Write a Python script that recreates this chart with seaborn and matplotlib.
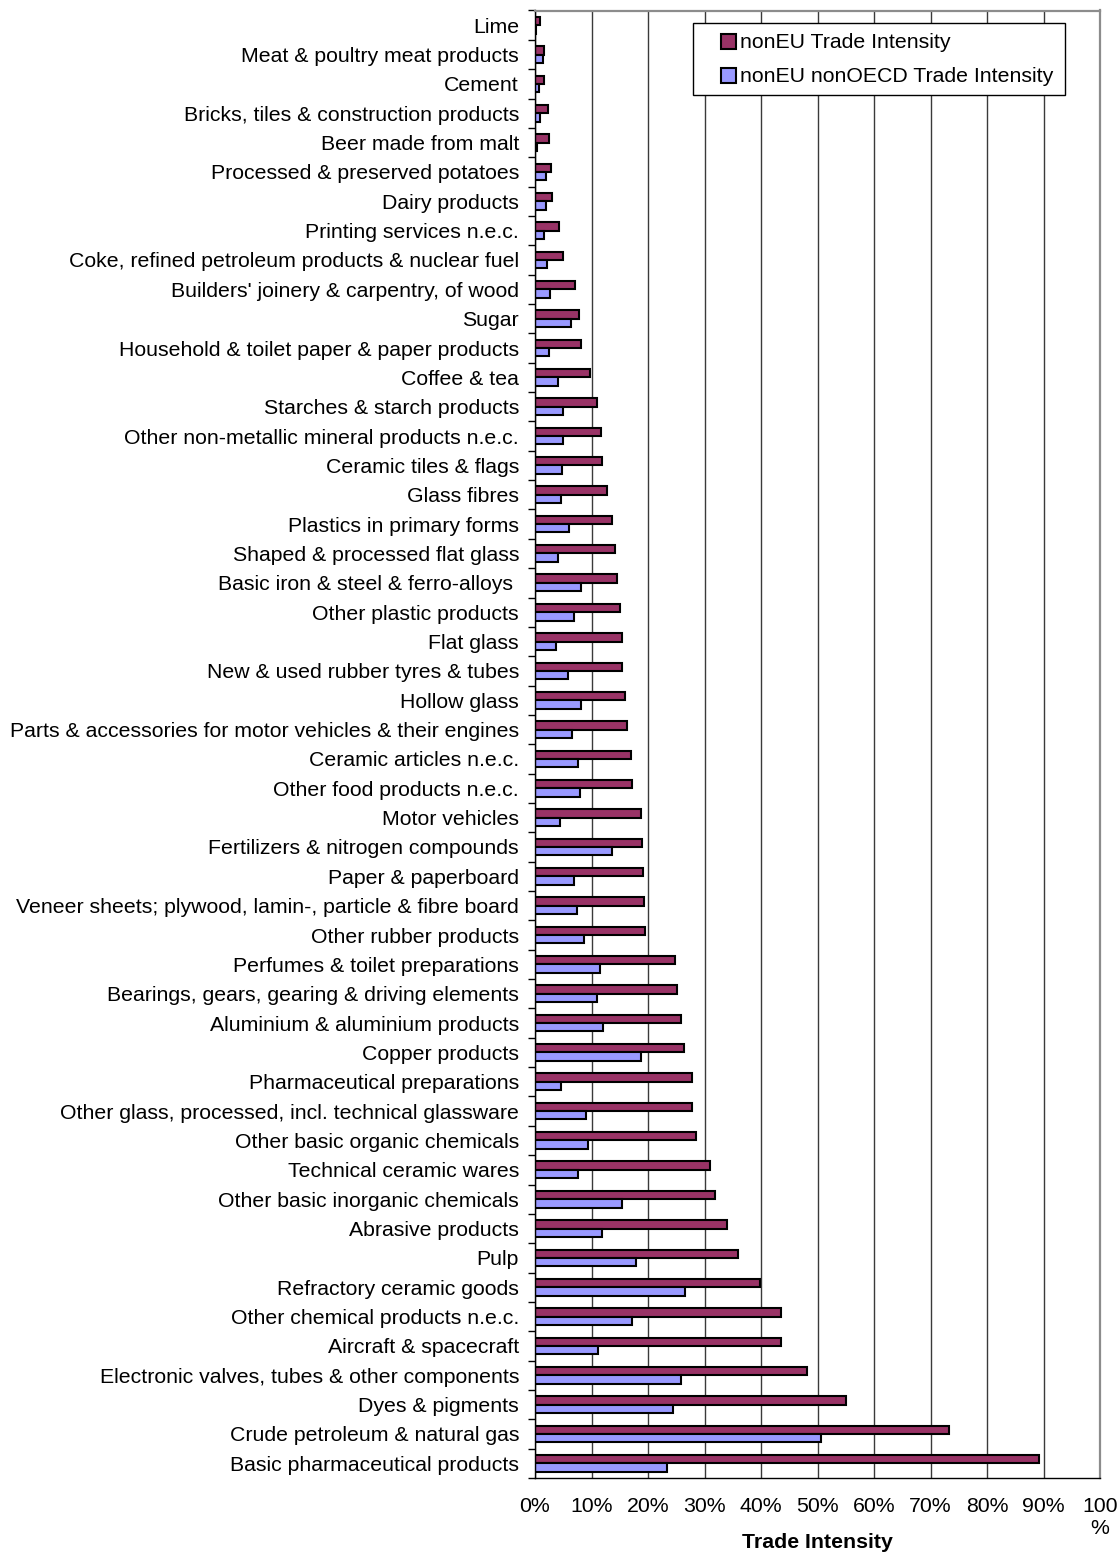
import numpy as np
import pandas as pd
import matplotlib
matplotlib.use("Agg")
import matplotlib.pyplot as plt
import matplotlib.patches as mpatches
from matplotlib.legend_handler import HandlerPatch
import seaborn as sns

# Product groups, top to bottom
categories = [
    "Lime",
    "Meat & poultry meat products",
    "Cement",
    "Bricks, tiles & construction products",
    "Beer made from malt",
    "Processed & preserved potatoes",
    "Dairy products",
    "Printing services n.e.c.",
    "Coke, refined petroleum products & nuclear fuel",
    "Builders' joinery & carpentry, of wood",
    "Sugar",
    "Household & toilet paper & paper products",
    "Coffee & tea",
    "Starches & starch products",
    "Other non-metallic mineral products n.e.c.",
    "Ceramic tiles & flags",
    "Glass fibres",
    "Plastics in primary forms",
    "Shaped & processed flat glass",
    "Basic iron & steel & ferro-alloys ",
    "Other plastic products",
    "Flat glass",
    "New & used rubber tyres & tubes",
    "Hollow glass",
    "Parts & accessories for motor vehicles & their engines",
    "Ceramic articles n.e.c.",
    "Other food products n.e.c.",
    "Motor vehicles",
    "Fertilizers & nitrogen compounds",
    "Paper & paperboard",
    "Veneer sheets; plywood, lamin-, particle & fibre board",
    "Other rubber products",
    "Perfumes & toilet preparations",
    "Bearings, gears, gearing & driving elements",
    "Aluminium & aluminium products",
    "Copper products",
    "Pharmaceutical preparations",
    "Other glass, processed, incl. technical glassware",
    "Other basic organic chemicals",
    "Technical ceramic wares",
    "Other basic inorganic chemicals",
    "Abrasive products",
    "Pulp",
    "Refractory ceramic goods",
    "Other chemical products n.e.c.",
    "Aircraft & spacecraft",
    "Electronic valves, tubes & other components",
    "Dyes & pigments",
    "Crude petroleum & natural gas",
    "Basic pharmaceutical products",
]

# Trade intensity, percent
noneu_intensity = [
    0.8, 1.6, 1.6, 2.3, 2.4, 2.8, 3.0, 4.2, 5.0, 7.0,
    7.7, 8.2, 9.8, 10.9, 11.7, 11.8, 12.8, 13.6, 14.1, 14.6,
    15.0, 15.4, 15.4, 16.0, 16.3, 17.0, 17.2, 18.8, 18.9, 19.1,
    19.3, 19.5, 24.7, 25.1, 25.8, 26.4, 27.7, 27.7, 28.5, 30.9,
    31.9, 34.0, 35.9, 39.9, 43.5, 43.5, 48.2, 55.1, 73.3, 89.2,
]
noneu_nonoecd_intensity = [
    0.1, 1.5, 0.7, 0.9, 0.4, 2.0, 1.9, 1.6, 2.1, 2.7,
    6.4, 2.5, 4.1, 4.9, 4.9, 4.7, 4.6, 6.1, 4.1, 8.2,
    6.9, 3.8, 5.9, 8.2, 6.5, 7.6, 7.9, 4.4, 13.7, 6.9,
    7.4, 8.7, 11.5, 10.9, 12.0, 18.8, 4.6, 9.1, 9.4, 7.6,
    15.4, 11.8, 17.8, 26.5, 17.1, 11.2, 25.9, 24.4, 50.7, 23.3,
]

series_names = ["nonEU Trade Intensity", "nonEU nonOECD Trade Intensity"]
series_colors = ["#993366", "#9999FF"]

x_ticks = [0, 10, 20, 30, 40, 50, 60, 70, 80, 90, 100]
x_tick_labels = ["0%", "10%", "20%", "30%", "40%", "50%", "60%",
                 "70%", "80%", "90%", "100\n%"]

df = pd.concat([
    pd.DataFrame({"category": categories, "value": noneu_intensity,
                  "series": series_names[0]}),
    pd.DataFrame({"category": categories, "value": noneu_nonoecd_intensity,
                  "series": series_names[1]}),
], ignore_index=True)

sns.set_style("white")
plt.rcParams["font.family"] = ["Liberation Sans", "DejaVu Sans"]
plt.rcParams["font.size"] = 15.3
plt.rcParams["text.color"] = "black"
plt.rcParams["axes.labelcolor"] = "black"
plt.rcParams["xtick.color"] = "black"
plt.rcParams["ytick.color"] = "black"

FS = 15.3

fig = plt.figure(figsize=(11.2, 15.53), dpi=100)
ax = fig.add_axes([535 / 1120, 1 - 1478 / 1553, 565 / 1120, 1467.5 / 1553])

sns.barplot(
    data=df, x="value", y="category", hue="series",
    order=categories, hue_order=series_names, palette=series_colors,
    orient="h", width=0.57, saturation=1, errorbar=None,
    edgecolor="black", linewidth=1.5, legend=False, ax=ax,
)

ax.set_xlim(0, 100)
ax.set_ylim(len(categories) - 0.5, -0.5)

# vertical grid behind bars
ax.set_axisbelow(True)
ax.xaxis.grid(True, color="#3a3a3a", linewidth=1.0)
ax.yaxis.grid(False)

ax.set_xticks(x_ticks)
ax.set_xticklabels(x_tick_labels, fontsize=FS, color="black")
ax.tick_params(axis="x", direction="out", length=5, width=1, color="black", pad=9)

# category labels at centres, tick marks between categories
ax.set_yticks(np.arange(len(categories)))
ax.set_yticklabels(categories, fontsize=FS, color="black")
ax.set_yticks(np.arange(-0.5, len(categories), 1), minor=True)
ax.tick_params(axis="y", which="major", length=0, pad=11.5)
ax.tick_params(axis="y", which="minor", direction="out", length=5, width=1,
               color="black", left=True)

ax.set_ylabel("")
ax.set_xlabel("Trade Intensity", fontsize=FS, fontweight="bold", color="black")
ax.xaxis.set_label_coords(0.5, -0.0375)

for side in ("left", "bottom"):
    ax.spines[side].set_color("black")
    ax.spines[side].set_linewidth(1.0)
for side in ("top", "right"):
    ax.spines[side].set_color("#8c8c8c")
    ax.spines[side].set_linewidth(1.6)


def square_handle(legend, orig_handle, xdescent, ydescent, width, height, fontsize):
    side = height * 1.05
    return mpatches.Rectangle((width - side - xdescent, -ydescent - 0.1 * height),
                              side, side)


legend_top = 1 - (23 - 10.5) / 1467.5
handles = [mpatches.Patch(facecolor=c, edgecolor="black", linewidth=1.5)
           for c in series_colors]
leg = ax.legend(
    handles, series_names,
    loc="upper left",
    bbox_to_anchor=((693 - 535) / 565, legend_top - 0.05,
                    (1065 - 693) / 565, 0.05),
    mode="expand", borderaxespad=0, borderpad=0.45,
    handlelength=1.55, handleheight=0.65, handletextpad=0.2,
    labelspacing=0.72, fontsize=FS, frameon=True, fancybox=False,
    handler_map={mpatches.Patch: HandlerPatch(patch_func=square_handle)},
)
leg.get_frame().set_edgecolor("black")
leg.get_frame().set_linewidth(1.0)
leg.get_frame().set_facecolor("white")
leg.get_frame().set_alpha(1)
for t in leg.get_texts():
    t.set_color("black")

fig.savefig("out.png", dpi=100, facecolor="white")
